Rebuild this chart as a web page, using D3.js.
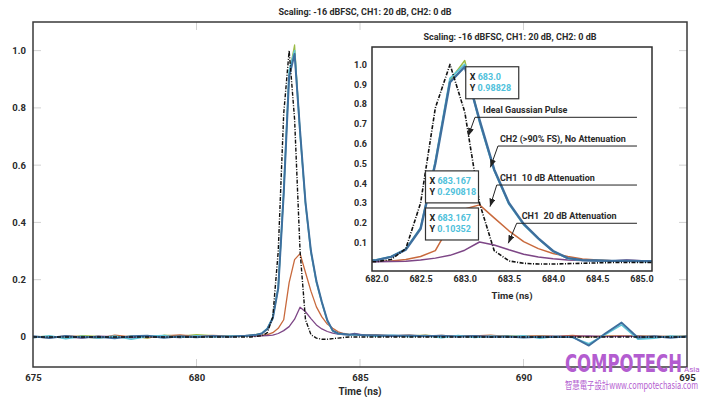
<!DOCTYPE html>
<html>
<head>
<meta charset="utf-8">
<script src="https://cdn.jsdelivr.net/npm/d3@7"></script>
<style>
  body { margin: 0; background: #fff; }
  svg text { font-family: Roboto, "Noto Sans", sans-serif; white-space: pre; }
</style>
</head>
<body>
<svg id="chart" width="705" height="397"></svg>
<script>
// ---- DATA ----
// samples around the pulse, 6 GSPS -> 1/6 ns apart
const pulseTimes = [681.5, 681.667, 681.833, 682.0, 682.167, 682.333, 682.5, 682.667, 682.833,
  683.0, 683.167, 683.333, 683.5, 683.667, 683.833, 684.0, 684.167, 684.333, 684.5, 684.667,
  684.833, 685.0, 685.167];
const idealPulse  = [0, 0, 0.002, 0.004, 0.015, 0.07, 0.30, 0.78, 1.0, 0.76, 0.30, 0.06, 0.008,
  -0.004, -0.008, -0.008, -0.006, -0.004, -0.002, 0, 0, 0, 0];
const ch2Pulse    = [0.004, 0.006, 0.008, 0.012, 0.028, 0.065, 0.17, 0.5, 0.91, 0.98828, 0.72,
  0.47, 0.30, 0.195, 0.122, 0.058, 0.022, 0.012, 0.010, 0.008, 0.009, 0.007, 0.006];
const ch2bPulse   = [0.003, 0.005, 0.007, 0.013, 0.03, 0.068, 0.175, 0.51, 0.93, 1.0, 0.71,
  0.465, 0.295, 0.19, 0.12, 0.056, 0.02, 0.011, 0.009, 0.008, 0.007, 0.006, 0.005];
const ch2cPulse   = [0.004, 0.006, 0.009, 0.012, 0.029, 0.066, 0.172, 0.505, 0.92, 1.02, 0.715,
  0.468, 0.298, 0.193, 0.121, 0.057, 0.021, 0.012, 0.01, 0.008, 0.008, 0.007, 0.006];
const ch1_10Pulse = [0.004, 0.003, 0.005, 0.006, 0.008, 0.015, 0.03, 0.06, 0.19, 0.27, 0.290818,
  0.225, 0.16, 0.105, 0.07, 0.045, 0.03, 0.018, 0.012, 0.009, 0.008, 0.007, 0.006];
const ch1_20Pulse = [0.003, 0.004, 0.003, 0.004, 0.005, 0.006, 0.012, 0.022, 0.036, 0.062, 0.10352,
  0.088, 0.064, 0.042, 0.028, 0.019, 0.013, 0.010, 0.008, 0.008, 0.012, 0.009, 0.006];

// baseline noise before and after the pulse (0.5 ns apart)
const beforeTimes = [675, 675.5, 676, 676.5, 677, 677.5, 678, 678.5, 679, 679.5, 680, 680.5, 681];
const idealBefore  = [0, 0, 0, 0, 0, 0, 0, 0, 0, 0, 0, 0, 0];
const ch2Before    = [0.002, -0.004, 0.003, -0.002, 0.001, -0.005, 0.002, 0.004, -0.003, 0.002, -0.001, 0.003, 0.001];
const ch2bBefore   = [-0.003, 0.004, -0.006, 0.002, -0.004, 0.003, -0.008, 0.002, 0.005, -0.002, 0.004, 0, 0.003];
const ch2cBefore   = [0.001, 0.002, -0.003, 0.005, 0.002, -0.002, 0.003, -0.004, 0.006, 0.003, 0.008, 0.005, 0.004];
const ch1_10Before = [0, -0.003, 0.004, 0.001, -0.005, 0.006, 0, -0.002, 0.004, 0.007, 0.002, 0.005, 0.003];
const ch1_20Before = [-0.002, 0.001, 0, -0.004, 0.003, 0.001, -0.003, 0.002, 0, -0.002, 0.003, 0.001, 0.002];

const afterTimes = [685.5, 686, 686.5, 687, 687.5, 688, 688.5, 689, 689.5, 690, 690.5, 691, 691.5,
  692, 692.5, 693, 693.5, 694, 694.5, 695];
const idealAfter  = [0, 0, 0, 0, 0, 0, 0, 0, 0, 0, 0, 0, 0, 0, 0, 0, 0, 0, 0, 0];
const ch2After    = [0.006, 0.004, 0.005, 0.002, 0.004, 0.001, 0.003, 0, 0.002, -0.002, 0.001, 0, 0,
  -0.03, 0.012, 0.05, -0.003, 0.002, -0.003, 0.002];
const ch2bAfter   = [0.003, 0.006, 0.001, 0.004, -0.003, 0.005, -0.002, 0.003, 0, 0.004, -0.004, 0.002,
  -0.002, -0.024, 0.008, 0.042, -0.008, -0.004, 0.003, 0];
const ch2cAfter   = [0.005, 0.003, 0.004, 0.006, 0.002, 0.003, 0.005, 0.001, 0.004, 0.002, 0.003, 0.001,
  0.002, 0, 0.003, 0.002, 0.004, 0.001, 0.002, 0.003];
const ch1_10After = [0.007, 0.004, 0.006, 0.003, 0.005, 0.002, 0.004, 0.006, 0.001, 0.003, 0.004, 0.002,
  0.005, 0.001, 0.003, 0.004, 0.002, 0.003, 0.001, 0.002];
const ch1_20After = [0.004, 0.002, 0.003, 0.005, 0.001, 0.004, 0.002, 0.003, 0, 0.002, 0.001, 0.003,
  0.002, 0.004, 0.001, 0.002, 0.003, 0.001, 0.002, 0.001];

const mainXTicks = [675, 680, 685, 690, 695];
const mainYTicks = [0, 0.2, 0.4, 0.6, 0.8, 1.0];
const insetXTicks = [682.0, 682.5, 683.0, 683.5, 684.0, 684.5, 685.0];
const insetYTicks = [0.1, 0.2, 0.3, 0.4, 0.5, 0.6, 0.7, 0.8, 0.9, 1.0];

const titleText = "Scaling: -16 dBFSC, CH1: 20 dB, CH2: 0 dB";

// ---- build traces ----
function zip(times, vals) {
  return times.map((t, i) => ({ t: t, v: vals[i] }));
}
function trace(before, pulse, after) {
  return zip(beforeTimes, before).concat(zip(pulseTimes, pulse), zip(afterTimes, after));
}

// drawing order: bottom first
const traces = [
  { key: "ch2c",  data: trace(ch2cBefore, ch2cPulse, ch2cAfter) },
  { key: "ch1_10", data: trace(ch1_10Before, ch1_10Pulse, ch1_10After) },
  { key: "ch1_20", data: trace(ch1_20Before, ch1_20Pulse, ch1_20After) },
  { key: "ch2b",  data: trace(ch2bBefore, ch2bPulse, ch2bAfter) },
  { key: "ch2",   data: trace(ch2Before, ch2Pulse, ch2After) },
  { key: "ideal", data: trace(idealBefore, idealPulse, idealAfter) }
];
const styles = {
  ch2c:   { color: "#9bbb44", width: 1.2 },
  ch1_10: { color: "#c8693c", width: 1.3 },
  ch1_20: { color: "#7d4686", width: 1.3 },
  ch2b:   { color: "#5cc3d6", width: 1.6 },
  ch2:    { color: "#3e6f9e", width: 2.0 },
  ideal:  { color: "#111", width: 1.4, dash: "4,1.5,1,1.5" }
};

const svg = d3.select("#chart");
const textCol = "#2a2a2a";

// ---- main chart ----
const x = d3.scaleLinear().domain([675, 695]).range([33, 687]);
const y = d3.scaleLinear().domain([-0.105, 1.1]).range([367, 22]);

svg.append("text")
  .attr("x", 365).attr("y", 15)
  .attr("text-anchor", "middle")
  .attr("font-size", 9).attr("font-weight", 700).attr("fill", textCol)
  .text(titleText);

// light inner tick marks
const grid = svg.append("g").attr("stroke", "#d2d2d2").attr("stroke-width", 1);
grid.selectAll(".yl").data(mainYTicks).join("line")
  .attr("x1", x.range()[0]).attr("x2", x.range()[0] + 8)
  .attr("y1", (d) => y(d)).attr("y2", (d) => y(d));
grid.selectAll(".yr").data(mainYTicks).join("line")
  .attr("x1", x.range()[1] - 8).attr("x2", x.range()[1])
  .attr("y1", (d) => y(d)).attr("y2", (d) => y(d));
grid.selectAll(".xt").data(mainXTicks.slice(1, -1)).join("line")
  .attr("x1", (d) => x(d)).attr("x2", (d) => x(d))
  .attr("y1", y.range()[1]).attr("y2", y.range()[1] + 8);
grid.selectAll(".xb").data(mainXTicks.slice(1, -1)).join("line")
  .attr("x1", (d) => x(d)).attr("x2", (d) => x(d))
  .attr("y1", y.range()[0] - 8).attr("y2", y.range()[0]);

const mainLine = d3.line().x((d) => x(d.t)).y((d) => y(d.v));
const mainG = svg.append("g");
traces.forEach((tr) => {
  const s = styles[tr.key];
  mainG.append("path")
    .datum(tr.data)
    .attr("fill", "none")
    .attr("stroke", s.color)
    .attr("stroke-width", s.width)
    .attr("stroke-dasharray", s.dash || null)
    .attr("stroke-linejoin", "round")
    .attr("d", mainLine);
});

// axes (labels only)
const yAxis = svg.append("g")
  .attr("transform", `translate(${x.range()[0]},0)`)
  .call(d3.axisLeft(y).tickValues(mainYTicks).tickSize(0).tickPadding(7)
    .tickFormat((d) => (d === 0 ? "0" : d3.format(".1f")(d))));
const xAxis = svg.append("g")
  .attr("transform", `translate(0,${y.range()[0]})`)
  .call(d3.axisBottom(x).tickValues(mainXTicks).tickSize(0).tickPadding(7).tickFormat(d3.format("d")));
[yAxis, xAxis].forEach((g) => {
  g.select(".domain").remove();
  g.selectAll("text").attr("font-size", 9.5).attr("font-weight", 700).attr("fill", textCol)
    .style("font-family", "Roboto, sans-serif");
});

svg.append("rect")
  .attr("x", x.range()[0]).attr("y", y.range()[1])
  .attr("width", x.range()[1] - x.range()[0]).attr("height", y.range()[0] - y.range()[1])
  .attr("fill", "none").attr("stroke", "#3a3a3a").attr("stroke-width", 1.5);

svg.append("text")
  .attr("x", 360).attr("y", 395)
  .attr("text-anchor", "middle")
  .attr("font-size", 10).attr("font-weight", 700).attr("fill", textCol)
  .text("Time (ns)");

// ---- inset ----
const xi = d3.scaleLinear().domain([681.95, 685.12]).range([372, 652]);
const yi = d3.scaleLinear().domain([-0.043, 1.088]).range([271, 47]);

svg.append("text")
  .attr("x", 510).attr("y", 40)
  .attr("text-anchor", "middle")
  .attr("font-size", 9).attr("font-weight", 700).attr("fill", textCol)
  .text(titleText);

svg.append("rect")
  .attr("x", xi.range()[0]).attr("y", yi.range()[1])
  .attr("width", xi.range()[1] - xi.range()[0]).attr("height", yi.range()[0] - yi.range()[1])
  .attr("fill", "#fff");

svg.append("clipPath").attr("id", "insetClip")
  .append("rect")
  .attr("x", xi.range()[0]).attr("y", yi.range()[1])
  .attr("width", xi.range()[1] - xi.range()[0]).attr("height", yi.range()[0] - yi.range()[1]);

const insetLine = d3.line().x((d) => xi(d.t)).y((d) => yi(d.v));
const insetG = svg.append("g").attr("clip-path", "url(#insetClip)");
traces.forEach((tr) => {
  const s = styles[tr.key];
  insetG.append("path")
    .datum(zip(pulseTimes, tr.data.slice(beforeTimes.length, beforeTimes.length + pulseTimes.length).map((d) => d.v)))
    .attr("fill", "none")
    .attr("stroke", s.color)
    .attr("stroke-width", tr.key === "ch2" ? 2.4 : s.width + 0.2)
    .attr("stroke-dasharray", s.dash || null)
    .attr("stroke-linejoin", "round")
    .attr("d", insetLine);
});

svg.append("rect")
  .attr("x", xi.range()[0]).attr("y", yi.range()[1])
  .attr("width", xi.range()[1] - xi.range()[0]).attr("height", yi.range()[0] - yi.range()[1])
  .attr("fill", "none").attr("stroke", "#2e2e2e").attr("stroke-width", 1.5);

const yiAxis = svg.append("g")
  .attr("transform", `translate(${xi.range()[0]},0)`)
  .call(d3.axisLeft(yi).tickValues(insetYTicks).tickSize(0).tickPadding(5).tickFormat(d3.format(".1f")));
const xiAxis = svg.append("g")
  .attr("transform", `translate(0,${yi.range()[0]})`)
  .call(d3.axisBottom(xi).tickValues(insetXTicks).tickSize(0).tickPadding(5).tickFormat(d3.format(".1f")));
[yiAxis, xiAxis].forEach((g) => {
  g.select(".domain").remove();
  g.selectAll("text").attr("font-size", 9).attr("font-weight", 700).attr("fill", textCol)
    .style("font-family", "Roboto, sans-serif");
});

svg.append("text")
  .attr("x", 512).attr("y", 298.5)
  .attr("text-anchor", "middle")
  .attr("font-size", 9.5).attr("font-weight", 700).attr("fill", textCol)
  .text("Time (ns)");

// leader labels with arrows
svg.append("defs").append("marker")
  .attr("id", "arrow")
  .attr("viewBox", "0 0 8 6")
  .attr("refX", 8).attr("refY", 3)
  .attr("markerWidth", 8).attr("markerHeight", 6)
  .attr("markerUnits", "userSpaceOnUse")
  .attr("orient", "auto")
  .append("path").attr("d", "M0,0L8,3L0,6Z").attr("fill", "#222");

const notes = [
  { text: "Ideal Gaussian Pulse", textT: 683.207, lineV: 0.733, startT: 683.116, tipT: 683.04, tipV: 0.639 },
  { text: "CH2 (>90% FS), No Attenuation", textT: 683.399, lineV: 0.588, startT: 683.376, tipT: 683.29, tipV: 0.48 },
  { text: "CH1  10 dB Attenuation", textT: 683.399, lineV: 0.391, startT: 683.362, tipT: 683.286, tipV: 0.282 },
  { text: "CH1  20 dB Attenuation", textT: 683.645, lineV: 0.198, startT: 683.588, tipT: 683.493, tipV: 0.097 }
];
const noteEndT = 684.95;
const noteG = svg.append("g");
notes.forEach((n) => {
  noteG.append("line")
    .attr("x1", xi(n.startT)).attr("x2", xi(noteEndT))
    .attr("y1", yi(n.lineV)).attr("y2", yi(n.lineV))
    .attr("stroke", "#222").attr("stroke-width", 1);
  noteG.append("line")
    .attr("x1", xi(n.startT)).attr("y1", yi(n.lineV))
    .attr("x2", xi(n.tipT)).attr("y2", yi(n.tipV))
    .attr("stroke", "#222").attr("stroke-width", 1)
    .attr("marker-end", "url(#arrow)");
  noteG.append("text")
    .attr("x", xi(n.textT)).attr("y", yi(n.lineV) - 4)
    .attr("font-size", 9).attr("font-weight", 700).attr("fill", textCol)
    .text(n.text);
});

// data-point callouts
const callouts = [
  { t: 683.0, v: 0.98828, xs: "683.0", ys: "0.98828", side: "right" },
  { t: 683.167, v: 0.290818, xs: "683.167", ys: "0.290818", side: "left" },
  { t: 683.167, v: 0.10352, xs: "683.167", ys: "0.10352", side: "left" }
];
const boxW = 53, boxH = 32;
callouts.forEach((c) => {
  const px = xi(c.t), py = yi(c.v);
  const bx = c.side === "right" ? px + 1 : px - 1 - boxW;
  const by = c.side === "right" ? py : py - 2 - boxH;
  const g = svg.append("g");
  g.append("rect")
    .attr("x", bx).attr("y", by).attr("width", boxW).attr("height", boxH)
    .attr("fill", "#fff").attr("stroke", "#333").attr("stroke-width", 1.2);
  [["X ", c.xs], ["Y ", c.ys]].forEach((row, i) => {
    const t = g.append("text")
      .attr("x", bx + 4).attr("y", by + 13 + i * 11.5)
      .attr("font-size", 9).attr("font-weight", 700);
    t.append("tspan").attr("fill", "#222").text(row[0]);
    t.append("tspan").attr("fill", "#4fc1db").text(row[1]);
  });
});

// ---- site watermark ----
const wm = svg.append("g").attr("fill", "#b35dd0");
wm.append("text")
  .attr("x", 565).attr("y", 372)
  .attr("font-size", 25).attr("font-weight", 700)
  .attr("textLength", 117).attr("lengthAdjust", "spacingAndGlyphs")
  .style("font-family", "'DejaVu Sans Condensed', 'DejaVu Sans', sans-serif")
  .text("COMPOTECH");
wm.append("text")
  .attr("x", 684).attr("y", 372)
  .attr("font-size", 8)
  .text("Asia");
wm.append("text")
  .attr("x", 565).attr("y", 389)
  .attr("font-size", 10)
  .attr("textLength", 133).attr("lengthAdjust", "spacingAndGlyphs")
  .style("font-family", "'Noto Sans CJK TC', 'Noto Sans', sans-serif")
  .text("智慧電子設計www.compotechasia.com");
</script>
</body>
</html>
